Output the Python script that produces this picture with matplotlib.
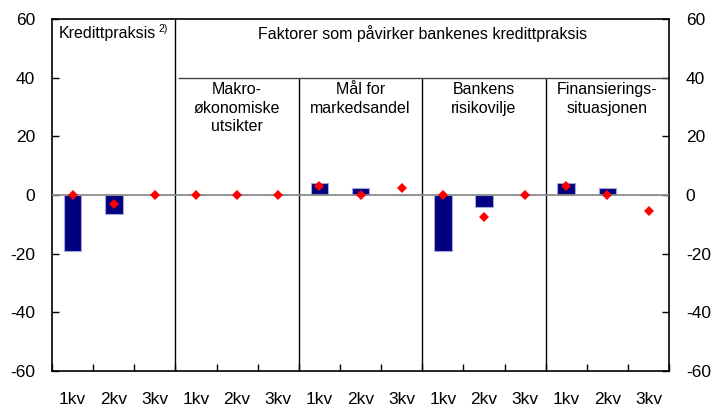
import numpy as np
import matplotlib.pyplot as plt

plt.rcParams['font.family'] = ['Liberation Sans', 'DejaVu Sans']
plt.rcParams['axes.unicode_minus'] = False

# kvartaler og grupper
quarters = ['1kv', '2kv', '3kv']
groups = ['Kredittpraksis', 'Makro-\nøkonomiske\nutsikter', 'Mål for\nmarkedsandel',
          'Bankens\nrisikovilje', 'Finansierings-\nsituasjonen']

# søyler (faktisk utvikling) og punkter (forventet)
bar_values = [-19, -6.5, 0,
              0, 0, 0,
              4, 2.3, 0,
              -19, -4.2, 0,
              4.2, 2.3, 0]
dot_values = [0, -3, 0,
              0, 0, 0,
              3, 0, 2.3,
              0, -7.4, 0,
              3.1, 0, -5.3]

x = np.arange(len(bar_values))
xlabels = quarters * len(groups)

fig = plt.figure(figsize=(7.16, 4.07), dpi=100)
ax = fig.add_axes([0.0726, 0.0885, 0.862, 0.8648])

ax.bar(x, bar_values, width=0.43, color='#000080', edgecolor='#a8a8d8', linewidth=0.8, zorder=2)
ax.axhline(0, color='#8c8c8c', linewidth=1.3, zorder=3)
ax.plot(x, dot_values, linestyle='none', marker='D', markersize=5,
        color='#ff0000', markeredgewidth=0, zorder=4)

ax.set_xlim(-0.5, len(x) - 0.5)
ax.set_ylim(-60, 60)
ax.set_yticks(range(-60, 61, 20))

ax.set_xticks(x)
ax.set_xticklabels(xlabels, fontsize=12.5)
ax.set_xticks(np.arange(-0.5, len(x), 1), minor=True)
ax.tick_params(axis='x', which='major', length=0, pad=15)
ax.tick_params(axis='x', which='minor', direction='in', length=5, width=1, bottom=True, top=False)
ax.tick_params(axis='y', direction='in', length=5, width=1, labelsize=12.5,
               left=True, right=True, labelleft=True, labelright=True, pad=12)

for s in ax.spines.values():
    s.set_linewidth(1.2)

# skillelinjer mellom gruppene
ax.vlines(2.5, -60, 60, color='black', linewidth=1)
ax.vlines([5.5, 8.5, 11.5], -60, 40, color='black', linewidth=1)
ax.hlines(40, 2.57, 14.5, color='#444444', linewidth=1)

# overskrifter
t = ax.text(0.85, 55.2, groups[0], ha='center', va='center', fontsize=11.5)
ax.annotate('2)', xy=(1, 1), xycoords=t, xytext=(1.5, 1), textcoords='offset points',
            ha='left', va='top', fontsize=7.5)
ax.text(8.5, 55.2, 'Faktorer som påvirker bankenes kredittpraksis',
        ha='center', va='center', fontsize=11.5)
for i, name in enumerate(groups[1:], start=1):
    ax.text(3 * i + 1, 38.6, name, ha='center', va='top', fontsize=11.5, linespacing=1.32)

fig.savefig('out.png', dpi=100)
